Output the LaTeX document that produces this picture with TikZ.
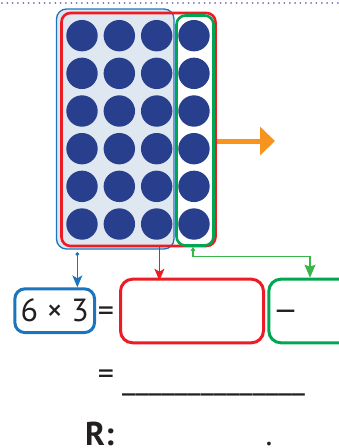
\documentclass[tikz,border=0pt]{standalone}
\usepackage{fontspec}
\setmainfont{PT Sans}
\usetikzlibrary{arrows.meta,calc}
\definecolor{cnavy}{HTML}{283F8E}
\definecolor{clight}{HTML}{DFE7F1}
\definecolor{cblue}{HTML}{1C75BC}
\definecolor{cred}{HTML}{ED1C24}
\definecolor{cgreen}{HTML}{00A651}
\definecolor{cgreenl}{HTML}{39B54A}
\definecolor{corange}{HTML}{F7941D}
\definecolor{cdots}{HTML}{7A70B8}
\definecolor{ctext}{HTML}{231F20}
\tikzset{
  dotc/.style={circle, fill=cnavy, minimum size=31.4pt, inner sep=0pt},
  framebox/.style={rectangle, inner sep=0pt},
  bigtext/.style={text=ctext, font=\fontsize{32}{36}\selectfont, inner sep=0pt},
  thinarrow/.style={line width=1.3pt},
}
\begin{document}
\begin{tikzpicture}[x=1pt,y=-1pt]
\useasboundingbox (0,0) rectangle (339,448);
% dotted rule
\draw[cdots, line width=2pt, line cap=round, dash pattern=on 0pt off 5.33pt] (2,3) -- (339,3);
% blue group
\node[framebox, draw=cblue, fill=clight, line width=1.3pt, rounded corners=10pt,
      minimum width=117.5pt, minimum height=240pt] (blue) at (115.25,129) {};
% dots
\foreach \i in {1,...,6}
  \foreach \j in {1,...,4}
    \node[dotc] (c-\i-\j) at ({82+(\j-1)*37.33},{35.67+(\i-1)*37.67}) {};
% red group
\node[framebox, draw=cred, line width=2.6pt, rounded corners=9pt,
      minimum width=154pt, minimum height=233pt] (red) at (138.5,129.5) {};
% green group
\node[framebox, draw=cgreen, line width=2.6pt, rounded corners=9pt,
      minimum width=37pt, minimum height=230pt] (green) at (195,130.5) {};
% orange arrow
\coordinate (oend) at (275,141);
\draw[corange, line width=5pt, -{Triangle[length=15pt,width=28pt]}] ([yshift=-11.5pt]red.east) -- (oend);
% equation boxes
\node[framebox, bigtext, draw=cblue, line width=3pt, rounded corners=10pt,
      minimum width=79.7pt, minimum height=43.7pt] (b6) at (54.7,310.7) {6 × 3};
\node[bigtext] (eq1) at (106,314) {=};
\node[framebox, draw=cred, line width=3pt, rounded corners=12pt,
      minimum width=143pt, minimum height=63.6pt] (rbox) at (192,311) {};
\node[framebox, draw=cgreen, line width=3pt, rounded corners=12pt,
      minimum width=82.4pt, minimum height=63.6pt] (gbox) at (310,311) {};
\node[bigtext] (minus) at (285.5,315) {\scalebox{1.3}[1]{–}};
% connectors
\coordinate (bstart) at ([xshift=21.5pt,yshift=-2.7pt]blue.south west);
\draw[cblue, thinarrow, {Circle[length=3.5pt]}-{Stealth[length=12pt,width=10pt,inset=3pt]}]
  (bstart) -- (bstart |- b6.north);
\coordinate (rstart) at ([xshift=99.2pt]red.south west);
\draw[cred, thinarrow, -{Stealth[length=12pt,width=10pt,inset=3pt]}]
  (rstart) -- ($(rstart |- rbox.north)+(0,3)$);
\draw[cgreenl, thinarrow, {Triangle[length=4pt,width=4.5pt]}-{Stealth[length=13pt,width=11pt,inset=2pt]}]
  ([xshift=-2pt]green.south) -- ++(0,9.5) -| (gbox.north);
% result line
\node[bigtext] (eq2) at (106,377) {=};
\node[bigtext, anchor=base west] (blank) at (122,389) {\_\_\_\_\_\_\_\_\_\_\_\_\_\_};
% answer
\node[bigtext, anchor=base west, font=\fontsize{33}{36}\selectfont\bfseries] (ans) at (85,445.5) {R:};
\node[bigtext, anchor=base] (stop) at (269,445.5) {.};
\end{tikzpicture}
\end{document}
